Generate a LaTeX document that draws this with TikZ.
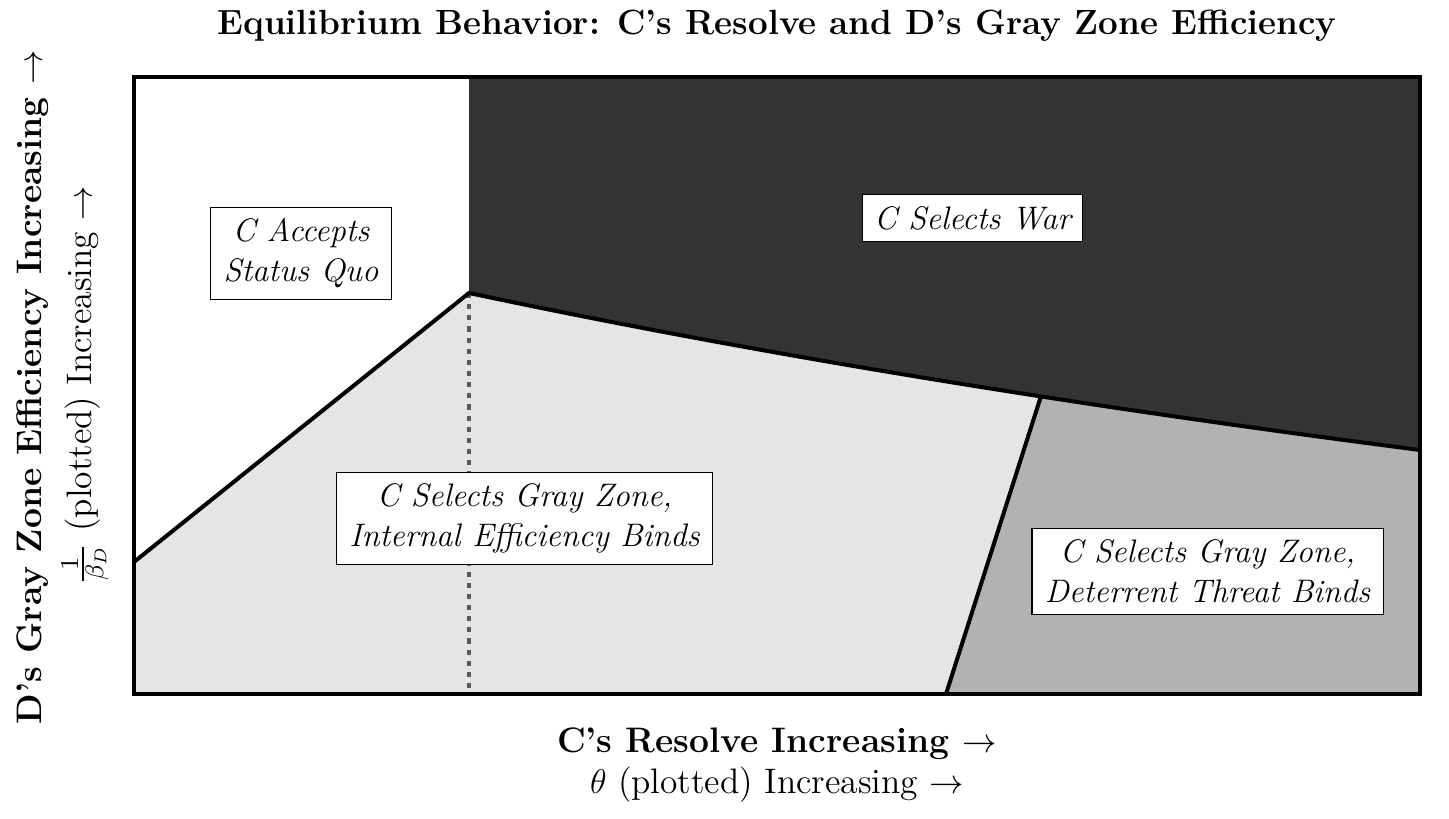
\documentclass[tikz,border=0pt]{standalone}
\usepackage{amsmath}
\usepackage{amssymb}
\begin{document}
\begin{tikzpicture}[x=0.35pt,y=-0.35pt]
\tikzstyle{every node}+=[inner sep=0pt]
\tikzstyle{regionbox}=[draw=black, line width=0.4pt, fill=white, inner xsep=4.5pt, inner ysep=4pt, align=center, font=\fontsize{11.4}{14}\selectfont\itshape]
\tikzstyle{border}=[black, line width=1.4pt]
\useasboundingbox (0,0) rectangle (1449,819);
% corners and break points
\coordinate (tl) at (134,77);
\coordinate (tr) at (1420,77);
\coordinate (bl) at (134,694);
\coordinate (br) at (1420,694);
\coordinate (top) at (469,77);
\coordinate (kink) at (469,293);
\coordinate (foot) at (469,694);
\coordinate (left) at (134,562);
\coordinate (right) at (1420,450);
\coordinate (meet) at (1041,396);
\coordinate (base) at (946,694);
% regions
\fill [black!10] (tl) rectangle (br);
\fill [white] (tl) -- (top) -- (kink) -- (left) -- cycle;
\fill [black!80] (top) -- (tr) -- (right) .. controls (1064,404) and (747,352) .. (kink) -- cycle;
\fill [black!30] (base) -- (meet) .. controls (1162,415) and (1288,433) .. (right) -- (br) -- cycle;
% boundaries
\draw [black!65, line width=1.6pt, dash pattern=on 1.8pt off 2.1pt] (kink) -- (foot);
\draw [border] (left) -- (kink) .. controls (747,352) and (1064,404) .. (right);
\draw [border] (base) -- (meet);
\draw [black, line width=1.2pt] (tl) rectangle (br);
% labels
\node [regionbox] (quo) at (301,253.5) {C Accepts\\Status Quo};
\node [regionbox, inner xsep=4pt] (war) at (972.5,218) {C Selects War};
\node [regionbox] (inner) at (524.5,518.5) {C Selects Gray Zone,\\Internal Efficiency Binds};
\node [regionbox] (threat) at (1207.5,571.5) {C Selects Gray Zone,\\Deterrent Threat Binds};
% titles
\node [font=\fontsize{12.25}{14}\selectfont\bfseries] (title) at (777,26) {Equilibrium Behavior: C's Resolve and D's Gray Zone Efficiency};
\node [font=\fontsize{12.4}{14}\selectfont\bfseries] (xlab) at (777,744) {C's Resolve Increasing $\rightarrow$};
\node [font=\fontsize{12.4}{14}\selectfont] (xsub) at (777,785) {$\theta$ (plotted) Increasing $\rightarrow$};
\node [rotate=90, font=\fontsize{12.4}{14}\selectfont\bfseries] (ylab) at (33,387) {D's Gray Zone Efficiency Increasing $\rightarrow$};
\node [rotate=90, font=\fontsize{12.4}{14}\selectfont] (ysub) at (85,385) {$\frac{1}{\beta_D}$ (plotted) Increasing $\rightarrow$};
\end{tikzpicture}
\end{document}
